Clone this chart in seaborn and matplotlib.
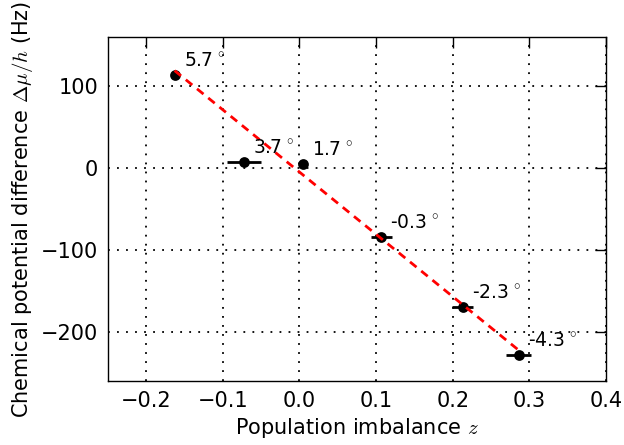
import numpy as np
import pandas as pd
import matplotlib
matplotlib.use("Agg")
import matplotlib.pyplot as plt
import seaborn as sns

# Measured population imbalance and chemical potential difference per tilt angle
angles = ["5.7", "3.7", "1.7", "-0.3", "-2.3", "-4.3"]
imbalance = [-0.163, -0.072, 0.004, 0.107, 0.213, 0.286]
imbalance_err = [0.0, 0.022, 0.0, 0.014, 0.014, 0.016]
delta_mu = [114, 7, 5, -84, -170, -228]

# Linear fit: delta_mu = slope * z + offset
fit_slope = -760.0
fit_offset = -5.0

sns.set_style("white")
plt.rcParams["font.family"] = ["DejaVu Sans"]
plt.rcParams["mathtext.fontset"] = "cm"
plt.rcParams["text.color"] = "black"
plt.rcParams["axes.labelcolor"] = "black"
plt.rcParams["xtick.color"] = "black"
plt.rcParams["ytick.color"] = "black"

df = pd.DataFrame({"z": imbalance, "dmu": delta_mu, "zerr": imbalance_err, "angle": angles})

fig = plt.figure(figsize=(6.24, 4.45), dpi=100)
ax = fig.add_axes([0.173, 0.144, 0.798, 0.773])

ax.errorbar(df["z"], df["dmu"], xerr=df["zerr"], fmt="none", ecolor="black",
            elinewidth=2, capsize=0, zorder=3)
sns.scatterplot(data=df, x="z", y="dmu", color="black", s=60, edgecolor="black",
                linewidth=0, ax=ax, zorder=4)

z_fit = np.array([min(imbalance), max(imbalance)])
fit_df = pd.DataFrame({"z": z_fit, "dmu": fit_slope * z_fit + fit_offset})
sns.lineplot(data=fit_df, x="z", y="dmu", color="red", linestyle="--", linewidth=2,
             ax=ax, zorder=5)
ax.lines[-1].set_dashes((3, 2.2))

for _, row in df.iterrows():
    ax.annotate(row["angle"] + r"$^{\,\circ}$", (row["z"], row["dmu"]),
                xytext=(6.5, 10.5), textcoords="offset points",
                ha="left", va="center", fontsize=13.5, color="black", zorder=6)

ax.set_xlim(-0.25, 0.4)
ax.set_ylim(-260, 160)
ax.set_xticks([-0.2, -0.1, 0.0, 0.1, 0.2, 0.3, 0.4])
ax.set_yticks([-200, -100, 0, 100])
ax.grid(True, color="black", linestyle=(0, (1, 4)), linewidth=1.3)
ax.tick_params(direction="in", length=8, width=1, top=True, right=True,
               labelsize=15, pad=7)
for sp in ax.spines.values():
    sp.set_color("black")
    sp.set_linewidth(1)

ax.set_xlabel(r"Population imbalance $z$", fontsize=15, labelpad=4)
ax.set_ylabel(r"Chemical potential difference $\Delta\mu/h$ (Hz)", fontsize=15, labelpad=4)

fig.savefig("out.png", dpi=100)
